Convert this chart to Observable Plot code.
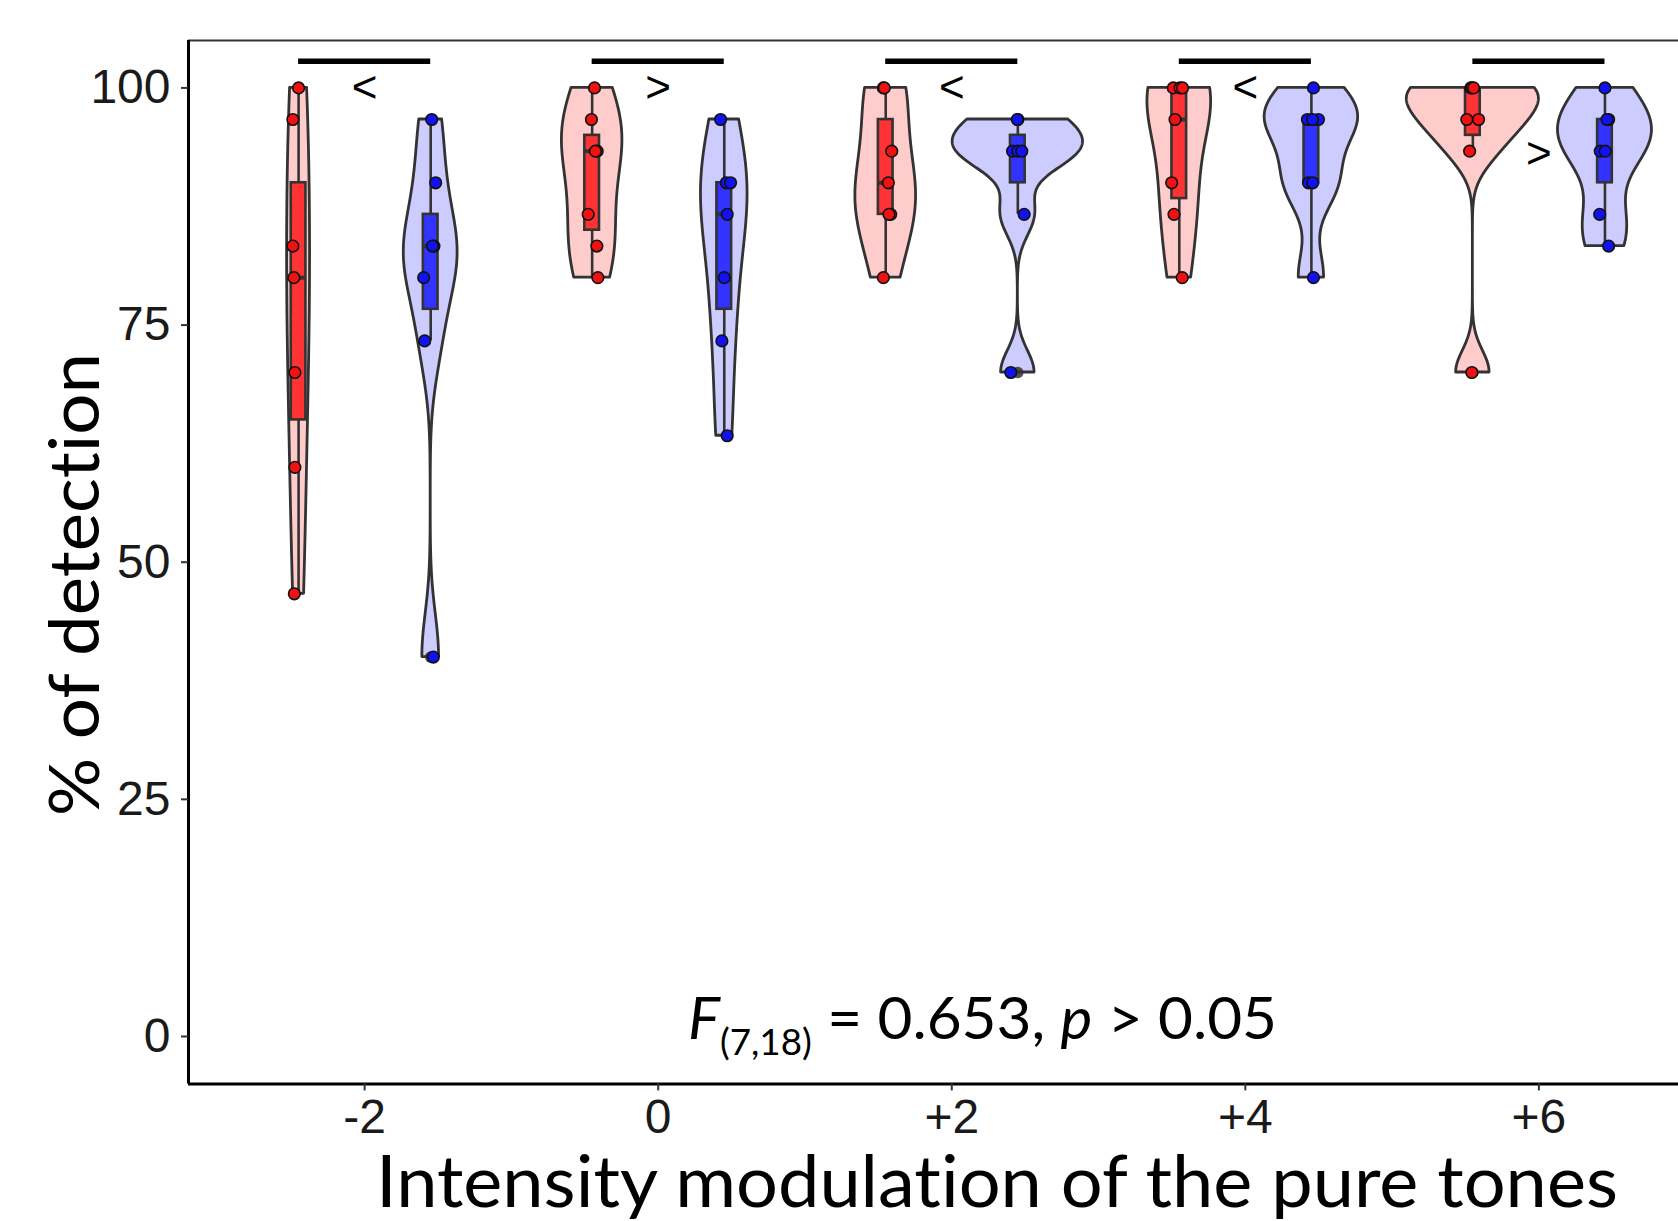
<!DOCTYPE html>
<html>
<head>
<meta charset="utf-8">
<script src="https://cdn.jsdelivr.net/npm/d3@7"></script>
<script src="https://cdn.jsdelivr.net/npm/@observablehq/plot@0.6"></script>
<style>
html, body { margin: 0; padding: 0; background: #fff; overflow: hidden; }
#chart svg { display: block; }
.title-text { font-variant-ligatures: none; font-feature-settings: "liga" 0, "clig" 0; }
</style>
</head>
<body>
<div id="chart"></div>
<script>
// ---------------- data ----------------
const levels = [-2, 0, 2, 4, 6];
const tickLabels = ["-2", "0", "+2", "+4", "+6"];
const yTicks = [0, 25, 50, 75, 100];

// red series (left violin of each pair), % of detection per participant
const redValues = [
  [100, 96.67, 83.33, 80, 70, 60, 46.67],
  [100, 96.67, 93.33, 93.33, 86.67, 83.33, 80],
  [100, 100, 93.33, 90, 86.67, 86.67, 80],
  [100, 100, 100, 96.67, 90, 86.67, 80],
  [100, 100, 100, 96.67, 96.67, 93.33, 70]
];
// horizontal jitter of the red points (x units)
const redJitter = [
  [0, -0.039, -0.039, -0.032, -0.025, -0.025, -0.029],
  [0.016, -0.005, 0.034, 0.022, -0.027, 0.032, 0.039],
  [-0.016, -0.010, 0.041, 0.018, 0.034, 0.022, -0.016],
  [-0.041, 0.005, 0.022, -0.029, -0.052, -0.036, 0.020],
  [-0.014, -0.007, 0.005, -0.041, 0.039, -0.022, -0.007]
];

// blue series (right violin of each pair)
const blueValues = [
  [96.67, 90, 83.33, 83.33, 80, 73.33, 40],
  [96.67, 90, 90, 86.67, 80, 73.33, 63.33],
  [96.67, 96.67, 93.33, 93.33, 93.33, 86.67, 70],
  [100, 96.67, 96.67, 96.67, 90, 90, 80],
  [100, 96.67, 96.67, 93.33, 93.33, 86.67, 83.33]
];
const blueJitter = [
  [0.007, 0.034, 0.022, 0.012, -0.048, -0.041, 0.018],
  [-0.025, 0.014, 0.043, 0.020, 0, -0.016, 0.020],
  [0, -0.003, -0.036, 0, 0.027, 0.043, -0.048],
  [0.014, -0.027, 0.048, 0.007, -0.020, 0.009, 0.014],
  [0, 0.025, 0.014, -0.032, 0.002, -0.036, 0.025]
];

// pairwise comparison annotations
const symbols = ["<", ">", "<", "<", ">"];
const symbolLevel = [100, 100, 100, 100, 93];
const barLevel = 102.8;

const xTitle = "Intensity modulation of the pure tones";
const yTitle = "% of detection";
const statParts = [
  {t: "F", italic: true},
  {t: "(7,18)", sub: true},
  {t: " = 0.653, "},
  {t: "p", italic: true},
  {t: " > 0.05"}
];

// ---------------- layout constants ----------------
const W = 1678, H = 1221;
const xDomain = [-3.2, 6.951];
const yDomain = [-5, 105];
const dodge = 0.45;      // offset of each violin from the category centre (x units)
const boxHalf = 0.05;    // half width of the boxes (x units)
const violinHalf = 0.45; // maximal half width of a violin (x units)

const series = [
  {name: "red", values: redValues, jitter: redJitter, offset: -dodge,
   violinFill: "#ffcccc", boxFill: "#ff3333", pointFill: "#f01212"},
  {name: "blue", values: blueValues, jitter: blueJitter, offset: dodge,
   violinFill: "#ccccff", boxFill: "#3333ff", pointFill: "#1212f0"}
];

// ---------------- statistics (ggplot-like) ----------------
function bwNrd0(x) {
  const n = x.length;
  const hi = d3.deviation(x);
  const s = x.slice().sort(d3.ascending);
  const iqr = d3.quantileSorted(s, 0.75) - d3.quantileSorted(s, 0.25);
  let lo = Math.min(hi, iqr / 1.34);
  if (!(lo > 0)) lo = hi || Math.abs(x[0]) || 1;
  return 0.9 * lo * Math.pow(n, -0.2);
}
function kde(vals) {
  const n = vals.length, h = bwNrd0(vals);
  const lo = d3.min(vals), hi = d3.max(vals);
  const out = [];
  const N = 512;
  for (let i = 0; i < N; i++) {
    const y = lo + (hi - lo) * i / (N - 1);
    let s = 0;
    for (const v of vals) { const u = (y - v) / h; s += Math.exp(-0.5 * u * u); }
    out.push({y, d: s / (n * h * Math.sqrt(2 * Math.PI))});
  }
  return out;
}

const violins = [], stats = [], points = [], outliers = [];
series.forEach(S => {
  levels.forEach((lv, i) => {
    const vals = S.values[i];
    const cx = lv + S.offset;
    const dens = kde(vals);
    violins.push({series: S, key: S.name + lv, cx, dens});
    const s = vals.slice().sort(d3.ascending);
    const q1 = d3.quantileSorted(s, 0.25), med = d3.quantileSorted(s, 0.5), q3 = d3.quantileSorted(s, 0.75);
    const iqr = q3 - q1;
    const loF = q1 - 1.5 * iqr, hiF = q3 + 1.5 * iqr;
    const inside = s.filter(v => v >= loF - 1e-9 && v <= hiF + 1e-9);
    stats.push({series: S, cx, q1, med, q3, lo: d3.min(inside), hi: d3.max(inside)});
    s.filter(v => v < loF - 1e-9 || v > hiF + 1e-9).forEach(v => outliers.push({cx, v}));
    vals.forEach((v, j) => points.push({series: S, x: cx + S.jitter[i][j], v}));
  });
});
const maxDens = d3.max(violins, g => d3.max(g.dens, p => p.d));
const violinRows = violins.flatMap(g => g.dens.map(p => ({
  series: g.series, key: g.key, y: p.y,
  x1: g.cx - violinHalf * p.d / maxDens,
  x2: g.cx + violinHalf * p.d / maxDens
})));

const lineCol = "#333333";
const marks = [];
series.forEach(S => {
  marks.push(Plot.areaX(violinRows.filter(r => r.series === S), {
    y: "y", x1: "x1", x2: "x2", z: "key", fill: S.violinFill,
    stroke: lineCol, strokeWidth: 2.8, strokeLinejoin: "round"
  }));
});
series.forEach(S => {
  const st = stats.filter(d => d.series === S);
  marks.push(Plot.ruleX(st, {x: "cx", y1: "lo", y2: "q1", stroke: lineCol, strokeWidth: 2.6}));
  marks.push(Plot.ruleX(st, {x: "cx", y1: "q3", y2: "hi", stroke: lineCol, strokeWidth: 2.6}));
  marks.push(Plot.rect(st, {x1: d => d.cx - boxHalf, x2: d => d.cx + boxHalf, y1: "q1", y2: "q3",
    fill: S.boxFill, stroke: lineCol, strokeWidth: 2.6}));
  marks.push(Plot.ruleY(st, {y: "med", x1: d => d.cx - boxHalf, x2: d => d.cx + boxHalf,
    stroke: lineCol, strokeWidth: 4}));
});
marks.push(Plot.dot(outliers, {x: "cx", y: "v", r: 5.8, fill: "#333333", fillOpacity: 0.85}));
series.forEach(S => {
  marks.push(Plot.dot(points.filter(p => p.series === S), {
    x: "x", y: "v", r: 5.8, fill: S.pointFill, stroke: "#111", strokeWidth: 1.6
  }));
});
// comparison bars and symbols
marks.push(Plot.ruleY(levels, {y: () => barLevel, x1: d => d - dodge, x2: d => d + dodge,
  stroke: "black", strokeWidth: 5.5}));
marks.push(Plot.text(levels, {x: d => d, y: (d, i) => symbolLevel[i], text: (d, i) => symbols[i],
  fontSize: 44, fill: "black"}));
// frame lines
marks.push(Plot.ruleY([yDomain[1]], {stroke: "#333333", strokeWidth: 2}));
marks.push(Plot.ruleX([xDomain[0]], {stroke: "black", strokeWidth: 3}));
marks.push(Plot.ruleY([yDomain[0]], {stroke: "black", strokeWidth: 3}));
// axes
marks.push(Plot.axisY({ticks: yTicks, tickSize: 7, tickPadding: 11, fontSize: 48,
  stroke: "#333333", strokeWidth: 2, fill: "#1a1a1a", label: null}));
marks.push(Plot.axisX({ticks: levels, tickFormat: d => tickLabels[levels.indexOf(d)],
  tickSize: 7, tickPadding: 8, fontSize: 48, stroke: "#333333", strokeWidth: 2,
  fill: "#1a1a1a", label: null}));

const plot = Plot.plot({
  width: W, height: H,
  marginLeft: 188, marginRight: 0, marginTop: 40, marginBottom: 137.6,
  x: {domain: xDomain},
  y: {domain: yDomain},
  style: {fontFamily: "'Liberation Sans', Arial, sans-serif", background: "white"},
  marks
});
document.getElementById("chart").appendChild(plot);

// ---------------- titles and statistics text ----------------
const svg = d3.select(plot);
svg.append("text")
  .attr("class", "title-text")
  .attr("x", 376).attr("y", 1207)
  .attr("text-anchor", "start")
  .attr("font-family", "Lato, 'Open Sans', sans-serif").attr("font-size", 71)
  .attr("fill", "black")
  .attr("textLength", 1242).attr("lengthAdjust", "spacingAndGlyphs")
  .text(xTitle);
svg.append("text")
  .attr("class", "title-text")
  .attr("transform", "translate(99,816) rotate(-90)")
  .attr("text-anchor", "start")
  .attr("font-family", "Lato, 'Open Sans', sans-serif").attr("font-size", 70)
  .attr("fill", "black")
  .attr("textLength", 463).attr("lengthAdjust", "spacingAndGlyphs")
  .text(yTitle);
const st = svg.append("text")
  .attr("class", "title-text")
  .attr("x", 688).attr("y", 1039)
  .attr("text-anchor", "start")
  .attr("font-family", "Lato, 'Open Sans', sans-serif").attr("font-size", 59)
  .attr("fill", "black")
  .attr("textLength", 589).attr("lengthAdjust", "spacingAndGlyphs");
let sub = false;
statParts.forEach(p => {
  const ts = st.append("tspan").text(p.t);
  if (p.italic) ts.attr("font-style", "italic");
  if (p.sub && !sub) { ts.attr("font-size", 36).attr("dy", 16); sub = true; }
  else if (!p.sub && sub) { ts.attr("dy", -16); sub = false; }
});
</script>
</body>
</html>
